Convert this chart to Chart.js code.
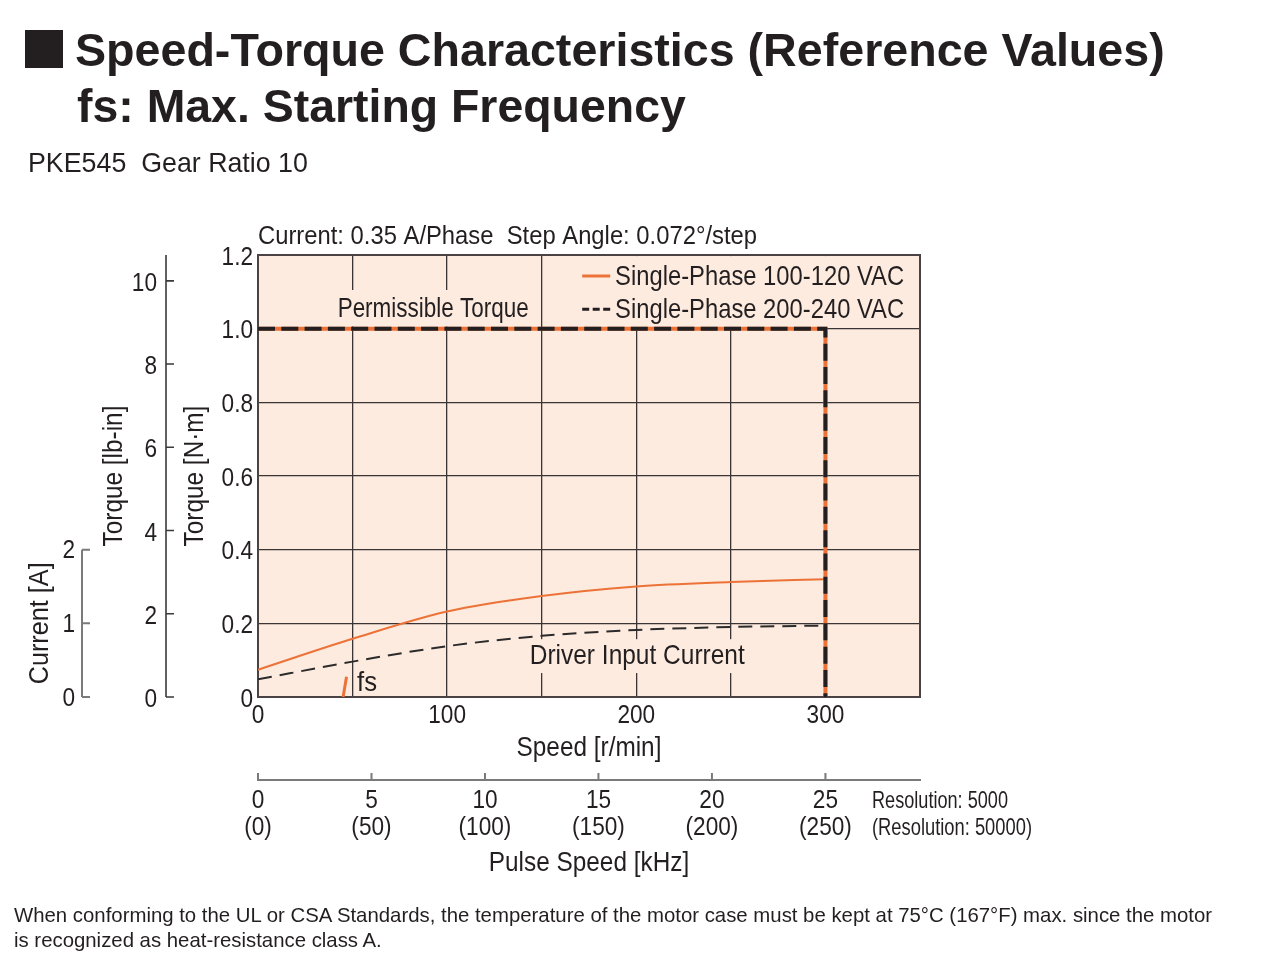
<!DOCTYPE html>
<html><head><meta charset="utf-8">
<script src="https://cdn.jsdelivr.net/npm/chart.js@4.4.1/dist/chart.umd.min.js"></script>
<style>
html,body{margin:0;padding:0;background:#fff;width:1280px;height:970px;overflow:hidden;}
#wrap{position:absolute;left:0;top:0;width:1280px;height:970px;}
.t{position:absolute;white-space:nowrap;color:#231f20;font-family:"Liberation Sans",Arial,Helvetica,sans-serif;z-index:2;}
#sq{position:absolute;left:25px;top:30px;width:38px;height:38px;background:#231f20;}
</style></head><body>
<div id="wrap"><canvas id="c" width="1280" height="970"></canvas></div>
<div id="sq"></div>
<div class="t fit" data-w="1090" data-cy="50" style="left:75px;top:27px;font-size:46px;line-height:46px;font-weight:bold;">Speed-Torque Characteristics (Reference Values)</div>
<div class="t fit" data-w="609" data-cy="105.5" style="left:77px;top:83px;font-size:46px;line-height:46px;font-weight:bold;">fs: Max. Starting Frequency</div>
<div class="t fit" data-w="280" data-cy="163.5" style="left:28px;top:150px;font-size:27px;line-height:27px;">PKE545&nbsp;&nbsp;Gear Ratio 10</div>
<div class="t fit" id="fn1" data-w="1199" data-cy="915" style="left:14px;top:906px;font-size:19px;line-height:19px;">When conforming to the UL or CSA Standards, the temperature of the motor case must be kept at 75°C (167°F) max. since the motor</div>
<div class="t" id="fn2" style="left:14px;top:931px;font-size:19px;line-height:19px;">is recognized as heat-resistance class A.</div>
<script>
// ---------- data ----------
const speedRPM = [0, 50, 100, 150, 200, 250, 300];
const current100to120 = [0.37, 0.79, 1.16, 1.37, 1.50, 1.56, 1.60];
const current200to240 = [0.24, 0.48, 0.69, 0.83, 0.91, 0.95, 0.97];
const permSpeed = [0, 300, 300];
const permTorque = [1.0, 1.0, 0];
const fsSpeed = [45.0, 46.8];
const fsTorque = [0, 0.055];
const speedTickLabels = [0, 100, 200, 300];
const torqueNmTicks = [0, 0.2, 0.4, 0.6, 0.8, 1.0, 1.2];
const torqueLbinTicks = [0, 2, 4, 6, 8, 10];
const currentTicks = [0, 1, 2];
const pulseKHzTicks = [0, 5, 10, 15, 20, 25];
const pulseKHzHighRes = [0, 50, 100, 150, 200, 250];
const seriesNames = ['Single-Phase 100-120 VAC', 'Single-Phase 200-240 VAC'];

// ---------- html text fitting ----------
let fnSize = 19;
document.querySelectorAll('.fit').forEach(el => {
  const w = el.getBoundingClientRect().width;
  const fs = parseFloat(getComputedStyle(el).fontSize);
  const nf = fs * (+el.dataset.w) / w;
  el.style.fontSize = nf + 'px'; el.style.lineHeight = nf + 'px';
  el.style.top = (parseFloat(el.dataset.cy) - 0.49 * nf) + 'px';
  if (el.id === 'fn1') fnSize = nf;
});
const fn2 = document.getElementById('fn2');
fn2.style.fontSize = fnSize + 'px'; fn2.style.lineHeight = fnSize + 'px';
fn2.style.top = (940 - 0.49 * fnSize) + 'px';

// ---------- chart ----------
const C = { orange: '#ec7237', black: '#231f20', grid: '#3b3434', frame: '#4b4343', bg: '#fdebdf', gray: '#7a7a7a', dark: '#3a3a3a' };
const FONT = '"Liberation Sans",Arial,Helvetica,sans-serif';
const NARROW = 0.87;   // condensed look for canvas text
Chart.defaults.font.family = FONT;
Chart.defaults.color = C.black;

const canvas = document.getElementById('c');
const ctx0 = canvas.getContext('2d');
const rawFill = ctx0.fillText.bind(ctx0);
ctx0.fillText = function (s, x, y, mw) {
  this.save(); this.translate(x, y); this.scale(NARROW, 1);
  if (mw !== undefined && mw !== null) rawFill(s, 0, 0, mw / NARROW); else rawFill(s, 0, 0);
  this.restore();
};

const pts = (xs, ys) => xs.map((v, i) => ({ x: v, y: ys[i] }));
const kHzPerRPM = 1 / 12;

function txt(ctx, s, x, y, size, align, w, color) {
  ctx.save();
  ctx.font = size + 'px ' + FONT;
  ctx.fillStyle = color || C.black;
  ctx.textAlign = align || 'left';
  ctx.textBaseline = 'middle';
  const k = w ? w / ctx.measureText(s).width : NARROW;
  ctx.translate(x, y); ctx.scale(k, 1);
  rawFill(s, 0, 0);
  ctx.restore();
}

const decor = {
  id: 'decor',
  beforeDraw(chart) {
    const { ctx, chartArea: a } = chart;
    ctx.save(); ctx.fillStyle = C.bg;
    ctx.fillRect(a.left, a.top, a.right - a.left, a.bottom - a.top); ctx.restore();
  },
  beforeDatasetsDraw(chart) {
    const { ctx, chartArea: a, scales: { x, y } } = chart;
    const box = (x0, x1, y0, y1) => {
      const L = x.getPixelForValue(x0), R = x.getPixelForValue(x1);
      const T = y.getPixelForValue(y1), B = y.getPixelForValue(y0);
      ctx.fillStyle = C.bg; ctx.fillRect(L, T, R - L, B - T);
    };
    ctx.save();
    box(41, 147, 1.006, 1.105);
    box(152, 349.5, 1.004, 1.197);
    box(143, 259, 0.065, 0.157);
    ctx.strokeStyle = C.frame; ctx.lineWidth = 2;
    ctx.strokeRect(a.left, a.top, a.right - a.left, a.bottom - a.top);
    ctx.restore();
  },
  afterDraw(chart) {
    const { ctx, chartArea: a, scales: { x, y, y2, yC, x2 } } = chart;
    const px = v => x.getPixelForValue(v), py = v => y.getPixelForValue(v);
    txt(ctx, 'Current: 0.35 A/Phase  Step Angle: 0.072°/step', a.left, a.top - 18, 26, 'left', 499);
    txt(ctx, 'Permissible Torque', px(92.6), py(1.053), 27, 'center', 191);
    // legend
    ctx.save();
    ctx.lineWidth = 3; ctx.strokeStyle = C.orange;
    ctx.beginPath(); ctx.moveTo(px(171.4), py(1.143)); ctx.lineTo(px(186.2), py(1.143)); ctx.stroke();
    ctx.strokeStyle = C.black; ctx.setLineDash([7, 3.5]);
    ctx.beginPath(); ctx.moveTo(px(171.4), py(1.053)); ctx.lineTo(px(186.2), py(1.053)); ctx.stroke();
    ctx.restore();
    txt(ctx, seriesNames[0], px(188.8), py(1.140), 28, 'left', 289);
    txt(ctx, seriesNames[1], px(188.8), py(1.050), 28, 'left', 289);
    txt(ctx, 'Driver Input Current', px(200.5), py(0.111), 28, 'center', 215);
    txt(ctx, 'fs', px(52.4), py(0.036), 27, 'left', 20);
    // lb-in axis line + inward ticks
    ctx.save();
    const lx = y2.right - 10;
    ctx.strokeStyle = C.dark; ctx.lineWidth = 1.6;
    ctx.beginPath(); ctx.moveTo(lx, y2.top); ctx.lineTo(lx, y2.bottom);
    torqueLbinTicks.forEach(v => { const p = y2.getPixelForValue(v); ctx.moveTo(lx, p); ctx.lineTo(lx + 8, p); });
    ctx.stroke();
    // current axis line + ticks
    const cx = yC.right - 15;
    ctx.strokeStyle = C.gray; ctx.lineWidth = 2;
    ctx.beginPath();
    ctx.moveTo(cx, yC.getPixelForValue(currentTicks[0]));
    ctx.lineTo(cx, yC.getPixelForValue(currentTicks[currentTicks.length - 1]));
    currentTicks.forEach(v => { const p = yC.getPixelForValue(v); ctx.moveTo(cx, p); ctx.lineTo(cx + 8, p); });
    ctx.stroke();
    // current title
    ctx.translate(41, yC.getPixelForValue(1));
    ctx.rotate(-Math.PI / 2);
    txt(ctx, 'Current [A]', 0, 0, 27, 'center', 122);
    ctx.restore();
    // pulse axis ticks
    ctx.save();
    ctx.strokeStyle = C.gray; ctx.lineWidth = 2;
    ctx.beginPath();
    pulseKHzTicks.forEach(v => { const p = x2.getPixelForValue(v); ctx.moveTo(p, x2.top - 7); ctx.lineTo(p, x2.top); });
    ctx.stroke(); ctx.restore();
    txt(ctx, 'Resolution: 5000', a.right - 48, x2.top + 21, 24, 'left', 136);
    txt(ctx, '(Resolution: 50000)', a.right - 48, x2.top + 48, 24, 'left', 160);
  }
};

const fixedW = w => s => { s.width = w; };
const fixedH = h => s => { s.height = h; };

new Chart(canvas, {
  type: 'line',
  data: {
    datasets: [
      { label: 'perm-200', data: pts(permSpeed, permTorque), xAxisID: 'x', yAxisID: 'y',
        borderColor: C.black, borderWidth: 4, borderDash: [17, 6.3], pointRadius: 0, tension: 0, borderCapStyle: 'butt', borderJoinStyle: 'miter' },
      { label: 'perm-100', data: pts(permSpeed, permTorque), xAxisID: 'x', yAxisID: 'y',
        borderColor: C.orange, borderWidth: 4, pointRadius: 0, tension: 0, borderJoinStyle: 'miter' },
      { label: seriesNames[1] + ' current', data: pts(speedRPM, current200to240), xAxisID: 'x', yAxisID: 'yC',
        borderColor: '#2b2b2b', borderWidth: 2, borderDash: [14, 8], pointRadius: 0, cubicInterpolationMode: 'monotone' },
      { label: seriesNames[0] + ' current', data: pts(speedRPM, current100to120), xAxisID: 'x', yAxisID: 'yC',
        borderColor: C.orange, borderWidth: 2, pointRadius: 0, cubicInterpolationMode: 'monotone' },
      { label: 'fs', data: pts(fsSpeed, fsTorque), xAxisID: 'x', yAxisID: 'y',
        borderColor: C.orange, borderWidth: 3, pointRadius: 0, tension: 0 }
    ]
  },
  options: {
    responsive: false, animation: false, devicePixelRatio: 1,
    layout: { padding: { left: 24, right: 360, top: 255, bottom: 90 } },
    plugins: { legend: { display: false }, tooltip: { enabled: false }, title: { display: false } },
    events: [],
    scales: {
      x: {
        type: 'linear', position: 'bottom', min: 0, max: 350, weight: 0,
        ticks: { stepSize: 50, autoSkip: false, maxRotation: 0, padding: 3, font: { size: 26 },
          callback: v => speedTickLabels.includes(v) ? String(v) : '' },
        grid: { color: C.grid, lineWidth: 1.3, drawTicks: false },
        border: { display: false },
        title: { display: true, text: 'Speed [r/min]', font: { size: 28 }, padding: { top: 0, bottom: 15 } },
        afterFit: fixedH(83)
      },
      x2: {
        type: 'linear', position: 'bottom', min: 0, max: 350 * kHzPerRPM, weight: 1,
        afterBuildTicks: s => { s.ticks = pulseKHzTicks.map(v => ({ value: v })); },
        ticks: { autoSkip: false, maxRotation: 0, padding: 7, font: { size: 26, lineHeight: 1.04 },
          callback: (v, i) => [String(pulseKHzTicks[i]), '(' + pulseKHzHighRes[i] + ')'] },
        grid: { display: true, drawOnChartArea: false, drawTicks: false },
        border: { display: true, color: C.gray, width: 2 },
        title: { display: true, text: 'Pulse Speed [kHz]', font: { size: 28 }, padding: { top: 0, bottom: 0 } },
        afterFit: fixedH(100)
      },
      y: {
        type: 'linear', position: 'left', min: 0, max: 1.2, weight: 0,
        afterBuildTicks: s => { s.ticks = torqueNmTicks.map(v => ({ value: v })); },
        ticks: { padding: 5, labelOffset: 2.5, font: { size: 26 }, callback: v => v === 0 ? '0' : v.toFixed(1) },
        grid: { color: C.grid, lineWidth: 1.3, drawTicks: false },
        border: { display: false },
        title: { display: true, text: 'Torque [N·m]', font: { size: 28 }, padding: { top: 2, bottom: 0 } },
        afterFit: fixedW(82)
      },
      y2: {
        type: 'linear', position: 'left', min: 0, max: 1.2 * 8.8507, weight: 1,
        afterBuildTicks: s => { s.ticks = torqueLbinTicks.map(v => ({ value: v })); },
        ticks: { padding: 19, labelOffset: 3, font: { size: 26 }, callback: v => String(v) },
        grid: { display: true, drawOnChartArea: false, drawTicks: false },
        border: { display: false },
        title: { display: true, text: 'Torque [lb-in]', font: { size: 28 }, padding: { top: 0, bottom: 0 } },
        afterFit: fixedW(79)
      },
      yC: {
        type: 'linear', position: 'left', min: 0, max: 6, weight: 2,
        afterBuildTicks: s => { s.ticks = currentTicks.map(v => ({ value: v })); },
        ticks: { padding: 22, labelOffset: 1.5, font: { size: 26 }, callback: v => String(v) },
        grid: { display: true, drawOnChartArea: false, drawTicks: false },
        border: { display: false },
        title: { display: false },
        afterFit: fixedW(73)
      }
    }
  },
  plugins: [decor]
});
</script>
</body></html>
